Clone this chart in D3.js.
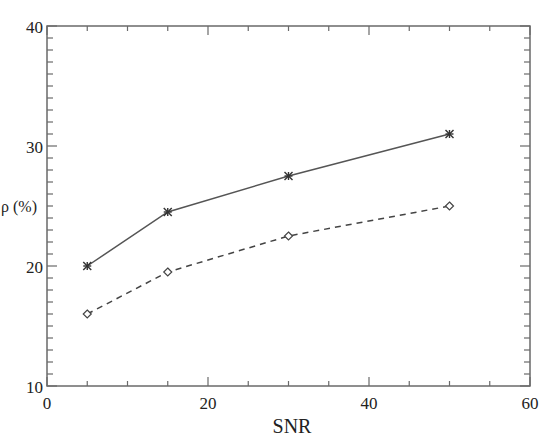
<!DOCTYPE html>
<html><head><meta charset="utf-8">
<script src="https://cdn.jsdelivr.net/npm/d3@7"></script>
<style>body{margin:0;background:#fff}svg{display:block}text{font-family:"Liberation Serif","DejaVu Serif",serif;fill:#222}</style>
</head><body>
<svg id="c" width="541" height="441"></svg>
<script>
const snr = [5, 15, 30, 50];
const seriesSolid = [20, 24.5, 27.5, 31];
const seriesDashed = [16, 19.5, 22.5, 25];
const xTicks = [0, 20, 40, 60];
const yTicks = [10, 20, 30, 40];

const svg = d3.select("#c");
const L = 47, R = 530, T = 26, B = 386;
const x = d3.scaleLinear().domain([0, 60]).range([L, R]);
const y = d3.scaleLinear().domain([10, 40]).range([B, T]);
const axisCol = "#6a6a6a";

svg.append("rect").attr("x", L).attr("y", T).attr("width", R - L).attr("height", B - T)
  .attr("fill", "none").attr("stroke", axisCol).attr("stroke-width", 1.5);

const xMinor = d3.range(0, 61, 5);
const yMinor = d3.range(10, 41, 1);
const g = svg.append("g").attr("stroke", axisCol).attr("stroke-width", 1.2);
xMinor.forEach(v => {
  const len = v % 20 === 0 ? 9 : 5;
  g.append("line").attr("x1", x(v)).attr("x2", x(v)).attr("y1", B).attr("y2", B - len);
  g.append("line").attr("x1", x(v)).attr("x2", x(v)).attr("y1", T).attr("y2", T + len);
});
yMinor.forEach(v => {
  const len = v % 10 === 0 ? 10 : 6;
  g.append("line").attr("y1", y(v)).attr("y2", y(v)).attr("x1", L).attr("x2", L + len);
  g.append("line").attr("y1", y(v)).attr("y2", y(v)).attr("x1", R).attr("x2", R - len);
});

svg.selectAll(".xl").data(xTicks).enter().append("text")
  .attr("x", d => x(d)).attr("y", 409).attr("text-anchor", "middle")
  .attr("font-size", 17).text(d => d);
svg.selectAll(".yl").data(yTicks).enter().append("text")
  .attr("x", 43).attr("y", d => y(d) + 7).attr("text-anchor", "end")
  .attr("font-size", 17).text(d => d);

svg.append("text").attr("x", 292).attr("y", 433).attr("text-anchor", "middle")
  .attr("font-size", 20).text("SNR");
svg.append("text").attr("x", 1).attr("y", 212).attr("text-anchor", "start")
  .attr("font-size", 16).text("ρ (%)");

const line = d3.line().x(d => x(d[0])).y(d => y(d[1]));
const solid = snr.map((s, i) => [s, seriesSolid[i]]);
const dashed = snr.map((s, i) => [s, seriesDashed[i]]);
svg.append("path").datum(solid).attr("d", line).attr("fill", "none")
  .attr("stroke", "#555").attr("stroke-width", 1.5);
svg.append("path").datum(dashed).attr("d", line).attr("fill", "none")
  .attr("stroke", "#444").attr("stroke-width", 1.5).attr("stroke-dasharray", "6,5");

solid.forEach(d => {
  const cx = x(d[0]), cy = y(d[1]), r = 4;
  const m = svg.append("g").attr("stroke", "#333").attr("stroke-width", 1.4);
  m.append("line").attr("x1", cx - r).attr("x2", cx + r).attr("y1", cy - r).attr("y2", cy + r);
  m.append("line").attr("x1", cx - r).attr("x2", cx + r).attr("y1", cy + r).attr("y2", cy - r);
  m.append("line").attr("x1", cx - r).attr("x2", cx + r).attr("y1", cy).attr("y2", cy);
  m.append("line").attr("x1", cx).attr("x2", cx).attr("y1", cy - r).attr("y2", cy + r);
});
dashed.forEach(d => {
  const cx = x(d[0]), cy = y(d[1]), r = 4;
  svg.append("path").attr("d", `M${cx},${cy - r}L${cx + r},${cy}L${cx},${cy + r}L${cx - r},${cy}Z`)
    .attr("fill", "#fff").attr("stroke", "#444").attr("stroke-width", 1.2);
});
</script>
</body></html>
